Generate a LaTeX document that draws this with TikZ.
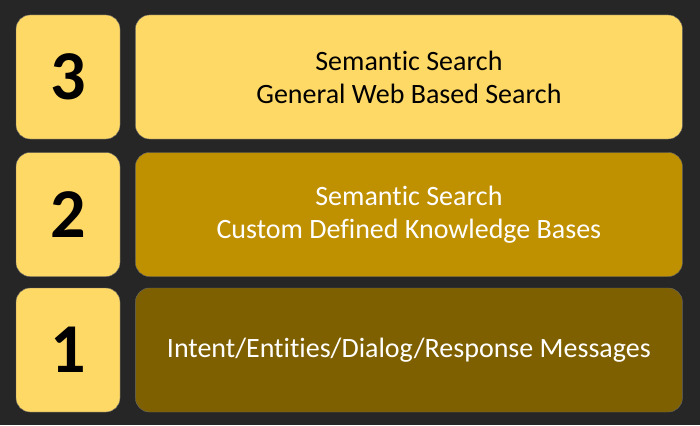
\documentclass[tikz,border=0pt]{standalone}
\usepackage{fontspec}
\setmainfont{Carlito}[Ligatures=NoCommon]
\usetikzlibrary{positioning}
\definecolor{bgdark}{HTML}{262626}
\definecolor{paleyellow}{HTML}{FFD966}
\definecolor{gold}{HTML}{BF9000}
\definecolor{darkgold}{HTML}{7F6000}
\tikzset{
  numbox/.style={draw=black!60, fill=paleyellow, rounded corners=14pt, minimum width=104pt, minimum height=124pt, inner sep=0pt, font=\fontsize{70}{70}\selectfont\bfseries},
  levelbox/.style={draw=black!60, rounded corners=14pt, minimum width=547pt, minimum height=124pt, inner sep=0pt, align=center, font=\fontsize{28}{33}\selectfont}
}
\begin{document}
\begin{tikzpicture}[x=1pt, y=1pt]
  \fill[bgdark] (0,0) rectangle (700,-425);
  % numbered squares
  \node[numbox] (num3) at (68,-77) {3};
  \node[numbox] (num2) at (68,-214.5) {2};
  \node[numbox] (num1) at (68,-350) {1};
  % level boxes
  \node[levelbox, fill=paleyellow, right=15pt of num3] (lvl3) {Semantic Search\\General Web Based Search};
  \node[levelbox, fill=gold, text=white, right=15pt of num2] (lvl2) {Semantic Search\\Custom Defined Knowledge Bases};
  \node[levelbox, fill=darkgold, text=white, right=15pt of num1] (lvl1) {Intent/Entities/Dialog/Response Messages};
\end{tikzpicture}
\end{document}
